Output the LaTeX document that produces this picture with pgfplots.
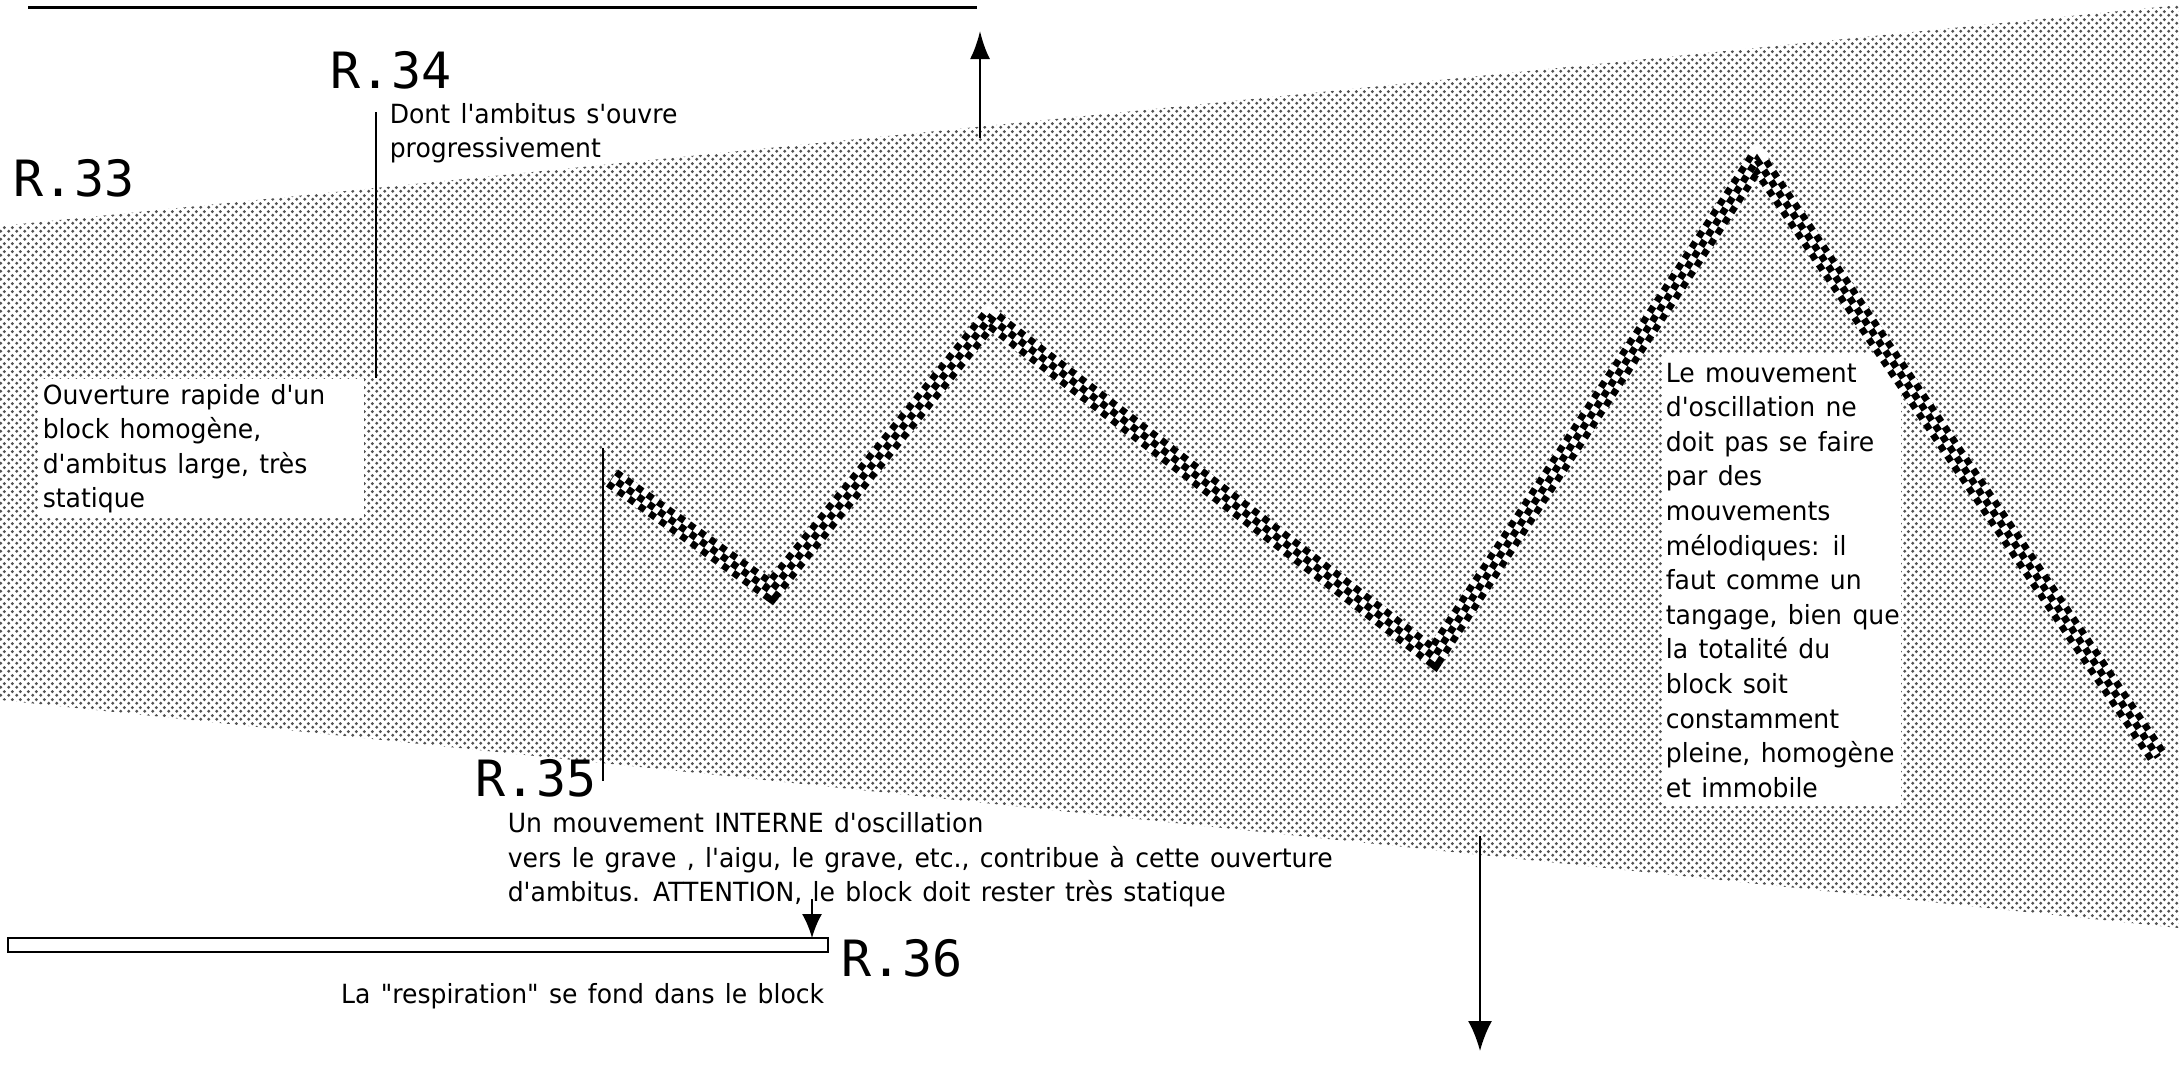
\documentclass[border=0pt]{standalone}
\usepackage{pgfplots}
\pgfplotsset{compat=1.18}
\usepackage{fontspec}
\setmainfont{DejaVu Sans}[FakeStretch=0.95, WordSpace=1.3, Ligatures=TeXOff]
\newfontfamily\rfont{DejaVu Sans Mono}
\usetikzlibrary{arrows.meta, patterns.meta}

\tikzdeclarepattern{
  name=halftone, type=uncolored,
  bounding box={(0,0) and (2pt,2pt)},
  tile size={(2pt,2pt)},
  code={
    \fill (0.5pt,0.5pt) circle (0.45pt);
    \fill (1.5pt,1.5pt) circle (0.45pt);
  }
}

\newcommand{\sm}{\fontsize{6.6}{8.6}\selectfont}
\newcommand{\rl}{\rfont\fontsize{12.5}{14}\selectfont}

\begin{document}
\begin{tikzpicture}
\begin{axis}[
    width=544.75pt, height=266pt, scale only axis,
    hide axis, clip=false,
    xmin=0, xmax=2179, ymin=0, ymax=1064,
    y dir=reverse,
]

% the block
\addplot[pattern=halftone, pattern color=black!68, draw=none] coordinates {(0,226) (2179,5) (2179,928) (0,700)} -- cycle;

% white boxes behind text
\addplot[fill=white, draw=none] coordinates {(38,379) (364,379) (364,518) (38,518)} -- cycle;
\addplot[fill=white, draw=none] coordinates {(1662,353) (1901,353) (1901,806) (1662,806)} -- cycle;

% oscillation line (checkered band)
\pgfplotstableread{
x y
612 478
771 591
990 318
1434 657
1757 160
2158 757
}\zigzag
\addplot[white, line width=5.2pt, line join=miter] table {\zigzag};
\addplot[black, line width=5.2pt, line join=miter, dash pattern=on 1.7pt off 1.5pt] table {\zigzag};
\addplot[white, line width=1.75pt, line join=miter] table {\zigzag};
\addplot[black, line width=1.75pt, line join=miter, dash pattern=on 1.7pt off 1.5pt, dash phase=1.6pt] table {\zigzag};

% lines and arrows
\addplot[black, line width=0.75pt] coordinates {(28,7) (977,7)};
\addplot[black, line width=0.6pt, -{Latex[length=7pt, width=5pt]}] coordinates {(980,138) (980,31)};
\addplot[black, line width=0.5pt] coordinates {(376,112) (376,378)};
\addplot[black, line width=0.5pt] coordinates {(603,448) (603,781)};
\addplot[black, line width=0.5pt, -{Latex[length=6pt, width=5pt]}] coordinates {(812,899) (812,938)};
\addplot[black, line width=0.6pt, -{Latex[length=7.5pt, width=6pt]}] coordinates {(1480,836) (1480,1051)};
\addplot[fill=white, draw=black, line width=0.7pt] coordinates {(8,938) (828,938) (828,952) (8,952)} -- cycle;

% rehearsal marks
\node[anchor=base west, inner sep=0] at (axis cs:13,196) {\rl R.33};
\node[anchor=base west, inner sep=0] at (axis cs:330,88) {\rl R.34};
\node[anchor=base west, inner sep=0] at (axis cs:475,796) {\rl R.35};
\node[anchor=base west, inner sep=0] at (axis cs:841,976) {\rl R.36};

% comments
\node[anchor=base west, inner sep=0] at (axis cs:389,123) {\sm Dont l'ambitus s'ouvre};
\node[anchor=base west, inner sep=0] at (axis cs:389,157) {\sm progressivement};

\node[anchor=base west, inner sep=0] at (axis cs:42,404) {\sm Ouverture rapide d'un};
\node[anchor=base west, inner sep=0] at (axis cs:42,438) {\sm block homogène,};
\node[anchor=base west, inner sep=0] at (axis cs:42,473) {\sm d'ambitus large, très};
\node[anchor=base west, inner sep=0] at (axis cs:42,507) {\sm statique};

\node[anchor=base west, inner sep=0] at (axis cs:507,832) {\sm Un mouvement INTERNE d'oscillation};
\node[anchor=base west, inner sep=0] at (axis cs:507,867) {\sm vers le grave , l'aigu, le grave, etc., contribue à cette ouverture};
\node[anchor=base west, inner sep=0] at (axis cs:507,901) {\sm d'ambitus. ATTENTION, le block doit rester très statique};

\node[anchor=base east, inner sep=0] at (axis cs:825,1003) {\sm La "respiration" se fond dans le block};

\node[anchor=base west, inner sep=0] at (axis cs:1665,382) {\sm Le mouvement};
\node[anchor=base west, inner sep=0] at (axis cs:1665,416.6) {\sm d'oscillation ne};
\node[anchor=base west, inner sep=0] at (axis cs:1665,451.2) {\sm doit pas se faire};
\node[anchor=base west, inner sep=0] at (axis cs:1665,485.8) {\sm par des};
\node[anchor=base west, inner sep=0] at (axis cs:1665,520.4) {\sm mouvements};
\node[anchor=base west, inner sep=0] at (axis cs:1665,555) {\sm mélodiques: il};
\node[anchor=base west, inner sep=0] at (axis cs:1665,589.6) {\sm faut comme un};
\node[anchor=base west, inner sep=0] at (axis cs:1665,624.2) {\sm tangage, bien que};
\node[anchor=base west, inner sep=0] at (axis cs:1665,658.8) {\sm la totalité du};
\node[anchor=base west, inner sep=0] at (axis cs:1665,693.4) {\sm block soit};
\node[anchor=base west, inner sep=0] at (axis cs:1665,728) {\sm constamment};
\node[anchor=base west, inner sep=0] at (axis cs:1665,762.6) {\sm pleine, homogène};
\node[anchor=base west, inner sep=0] at (axis cs:1665,797.2) {\sm et immobile};

\end{axis}
\pgfresetboundingbox
\path (current axis.south west) rectangle (current axis.north east);
\end{tikzpicture}
\end{document}
